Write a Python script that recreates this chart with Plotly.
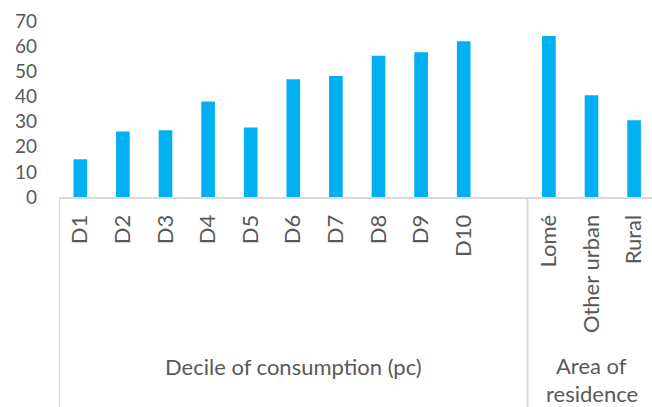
import plotly.graph_objects as go

decile_labels = ["D1", "D2", "D3", "D4", "D5", "D6", "D7", "D8", "D9", "D10"]
decile_values = [15.0, 26.1, 26.5, 38.0, 27.6, 46.8, 48.1, 56.2, 57.6, 61.9]
area_labels = ["Lomé", "Other urban", "Rural"]
area_values = [64.0, 40.5, 30.5]
group_labels = ["Decile of consumption (pc)", ["Area of", "residence"]]
y_ticks = [0, 10, 20, 30, 40, 50, 60, 70]

BAR = "#00B0F0"
TXT = "#595959"
LINE = "#D9D9D9"
FONT = "Lato"
FS_Y = 19
FS = 22

W, H = 652, 407
ML, MR, MT, MB = 59, 0, 21, 210
plot_h = H - MT - MB

# category slot positions: deciles, one empty slot, then areas
dec_x = list(range(len(decile_labels)))
area_start = len(decile_labels) + 1
area_x = [area_start + i for i in range(len(area_labels))]

fig = go.Figure()
fig.add_trace(go.Bar(
    x=dec_x + area_x,
    y=decile_values + area_values,
    width=0.32,
    marker=dict(color=BAR, line=dict(width=0)),
    hoverinfo="skip",
))

slot_px = 42.6
xmax = -0.5 + (W - ML - MR) / slot_px

fig.update_layout(
    width=W, height=H,
    margin=dict(l=ML, r=MR, t=MT, b=MB, pad=0),
    paper_bgcolor="white", plot_bgcolor="white",
    showlegend=False,
    font=dict(family=FONT, size=FS, color=TXT),
    xaxis=dict(
        range=[-0.5, xmax],
        tickmode="array",
        tickvals=dec_x + area_x,
        ticktext=decile_labels + area_labels,
        tickangle=-90,
        ticks="",
        ticklabelstandoff=7,
        showgrid=False, zeroline=False,
        showline=True, linecolor=LINE, linewidth=2,
        tickfont=dict(family=FONT, size=FS, color=TXT),
    ),
    yaxis=dict(
        range=[0, 70],
        tickmode="array",
        tickvals=y_ticks,
        ticks="",
        ticklabelstandoff=21,
        showgrid=False, zeroline=False, showline=False,
        tickfont=dict(family=FONT, size=FS_Y, color=TXT),
    ),
)

# group separators (left edge, and between empty slot and area group)
y_bottom = -(MB) / plot_h
for xs in [-0.5, area_start - 0.5]:
    fig.add_shape(type="line", xref="x", yref="paper",
                  x0=xs, x1=xs, y0=0, y1=y_bottom,
                  line=dict(color=LINE, width=2))

def py(pix):
    # pixel row (from top of figure) -> paper y
    return (H - MB - pix) / plot_h

# group labels
dec_center = (-0.5 + area_start - 0.5) / 2
area_center = (area_start - 0.5 + area_start + len(area_labels) - 0.5) / 2
fig.add_annotation(x=dec_center, xref="x", y=py(366.7), yref="paper",
                   text=group_labels[0], showarrow=False, yanchor="middle",
                   font=dict(family=FONT, size=FS, color=TXT))
for line_text, pix in zip(group_labels[1], [365.7, 393.5]):
    fig.add_annotation(x=area_center, xref="x", y=py(pix), yref="paper",
                       text=line_text, showarrow=False, yanchor="middle",
                       borderpad=0,
                       font=dict(family=FONT, size=FS, color=TXT))

fig.write_html("out.html")
